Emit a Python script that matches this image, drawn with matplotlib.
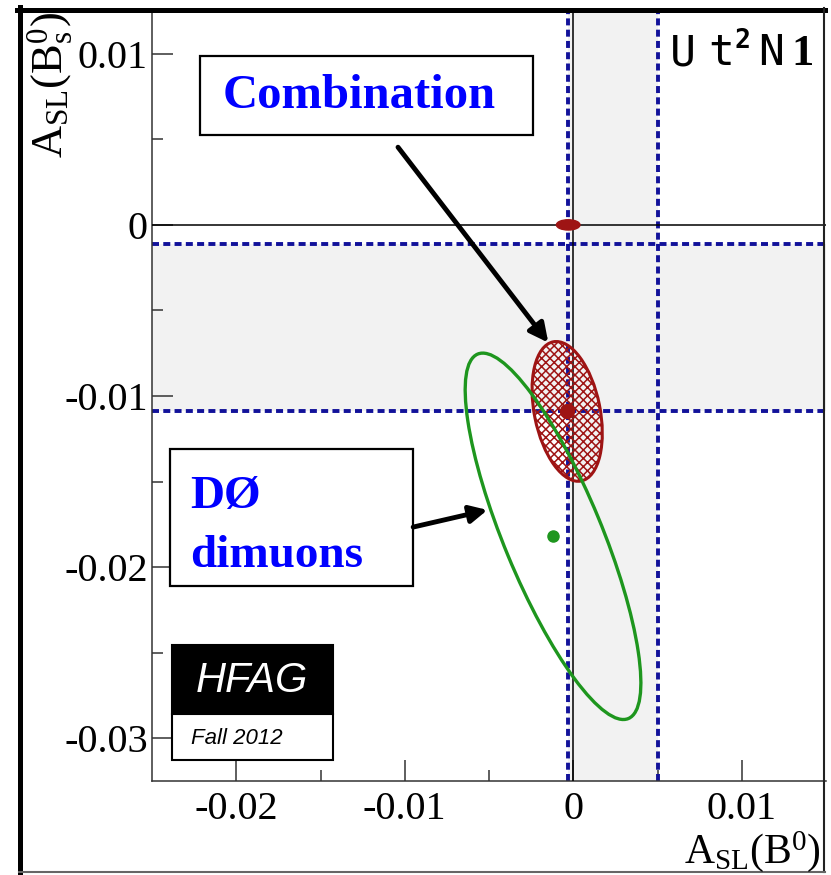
import matplotlib
matplotlib.use("Agg")
import matplotlib.pyplot as plt
from matplotlib.patches import Ellipse, Rectangle
from matplotlib.lines import Line2D

plt.rcParams['font.family'] = ['Liberation Serif', 'DejaVu Serif']
plt.rcParams['mathtext.fontset'] = 'custom'
plt.rcParams['mathtext.rm'] = 'Liberation Serif'
plt.rcParams['mathtext.it'] = 'Liberation Serif:italic'
plt.rcParams['mathtext.bf'] = 'Liberation Serif:bold'
plt.rcParams['hatch.linewidth'] = 1.1

# axis ranges and ticks
x_range = (-0.025, 0.015)
y_range = (-0.0325, 0.0125)
x_ticks = [-0.02, -0.01, 0.0, 0.01]
x_tick_labels = ['-0.02', '-0.01', '0', '0.01']
y_ticks = [-0.03, -0.02, -0.01, 0.0, 0.01]
y_tick_labels = ['-0.03', '-0.02', '-0.01', '0', '0.01']

# 1 sigma bands of the individual measurements
bd_band = (-0.0003, 0.0050)   # A_SL(B0)
bs_band = (-0.0109, -0.0011)  # A_SL(Bs)

# standard model point
sm_point = (-0.0003, 0.0)
sm_size = (0.0014, 0.0006)

# combination ellipse: centre, full widths, rotation
comb_center = (-0.00036, -0.0109)
comb_size = (0.0039, 0.0083)
comb_angle = 11.6

# D0 dimuon ellipse
d0_center = (-0.0012, -0.0182)
d0_size = (0.0058, 0.0231)
d0_angle = 22.8

band_col = '#f2f2f2'
dash_col = '#12129a'
red_col = '#9e1414'
green_col = '#1e961e'
blue_txt = '#0000ff'

fig = plt.figure(figsize=(8.31, 8.75), dpi=100)
ax = fig.add_axes([152 / 831, 94 / 875, 674 / 831, 770 / 875])
ax.set_xlim(*x_range)
ax.set_ylim(*y_range)

# bands
ax.axvspan(bd_band[0], bd_band[1], color=band_col, lw=0, zorder=0)
ax.axhspan(bs_band[0], bs_band[1], color=band_col, lw=0, zorder=0)
dash = (0, (1.8, 1.1))
for v in bd_band:
    ax.axvline(v, color=dash_col, lw=2.8, ls=dash, zorder=2)
for v in bs_band:
    ax.axhline(v, color=dash_col, lw=2.8, ls=dash, zorder=2)

# zero lines
ax.axvline(0, color='black', lw=1.1, zorder=3)
ax.axhline(0, color='black', lw=1.1, zorder=3)

# SM point
ax.add_patch(Ellipse(sm_point, sm_size[0], sm_size[1], color=red_col, zorder=5))

# combination
ax.add_patch(Ellipse(comb_center, comb_size[0], comb_size[1], angle=comb_angle,
                     facecolor='none', edgecolor=red_col, hatch='xxxx', lw=2.2, zorder=4))
ax.plot(*comb_center, 'o', color=red_col, ms=10, zorder=6)

# D0 dimuons
ax.add_patch(Ellipse(d0_center, d0_size[0], d0_size[1], angle=d0_angle,
                     facecolor='none', edgecolor=green_col, lw=2.4, zorder=5))
ax.plot(*d0_center, 'o', color=green_col, ms=8, zorder=6)

# axes styling
for s in ['top', 'right']:
    ax.spines[s].set_visible(False)
for s in ['left', 'bottom']:
    ax.spines[s].set_linewidth(1.1)
    ax.spines[s].set_color('#333333')
ax.set_xticks(x_ticks)
ax.set_xticklabels(x_tick_labels)
ax.set_yticks(y_ticks)
ax.set_yticklabels(y_tick_labels)
ax.set_xticks([-0.015, -0.005, 0.005], minor=True)
ax.set_yticks([-0.025, -0.015, -0.005, 0.005], minor=True)
ax.tick_params(which='both', direction='in', top=False, right=False,
               width=1.1, color='#333333', labelsize=29)
ax.tick_params(which='major', length=15)
ax.tick_params(which='minor', length=8)
ax.tick_params(axis='x', pad=7)
ax.tick_params(axis='y', pad=3)

# axis titles
fig.text(821 / 831, 1 - 863 / 875, r'A$_{\mathrm{SL}}$(B$^{0}$)', fontsize=30,
         ha='right', va='baseline')
fig.text(50 / 831, 1 - 12 / 875, r'A$_{\mathrm{SL}}$(B$_{\mathrm{s}}^{0}$)', fontsize=32,
         rotation=90, ha='center', va='top')

# label boxes
ax.add_patch(Rectangle((-0.02214, 0.00524), 0.01977, 0.00463, facecolor='white',
                       edgecolor='black', lw=1.6, zorder=7))
ax.text(-0.0208, 0.00755, 'Combination', color=blue_txt, fontsize=35,
        fontweight='bold', va='center', zorder=8)
ax.add_patch(Rectangle((-0.02392, -0.02113), 0.01442, 0.00801, facecolor='white',
                       edgecolor='black', lw=1.6, zorder=7))
ax.text(-0.02275, -0.01654, 'DØ', color=blue_txt, fontsize=34,
        fontweight='bold', va='baseline', zorder=8)
ax.text(-0.02275, -0.02, 'dimuons', color=blue_txt, fontsize=34,
        fontweight='bold', va='baseline', zorder=8)

# arrows
ax.annotate('', xy=(-0.00148, -0.00688), xytext=(-0.0104, 0.00454),
            arrowprops=dict(arrowstyle='-|>', color='black', lw=3.5,
                            mutation_scale=28, shrinkA=0, shrinkB=0), zorder=9)
ax.annotate('', xy=(-0.00509, -0.01666), xytext=(-0.0095, -0.01766),
            arrowprops=dict(arrowstyle='-|>', color='black', lw=3.5,
                            mutation_scale=26, shrinkA=0, shrinkB=0), zorder=9)

# HFAG logo (figure pixel boxes)
def fx(x):
    return x / 831


def fy(y):
    return 1 - y / 875


fig.add_artist(Rectangle((fx(172), fy(714)), fx(333) - fx(172), fy(645) - fy(714),
                         transform=fig.transFigure, facecolor='black', edgecolor='black', lw=1.5))
fig.add_artist(Rectangle((fx(172), fy(760)), fx(333) - fx(172), fy(714) - fy(760),
                         transform=fig.transFigure, facecolor='white', edgecolor='black', lw=1.5))
fig.text(fx(252), fy(681), 'HFAG', color='white', fontsize=30, style='italic',
         family='Liberation Sans', ha='center', va='center')
fig.text(fx(191), fy(738), 'Fall 2012', color='black', fontsize=16, style='italic',
         family='Liberation Sans', ha='left', va='center')

# top-right tag
for ch, xp in [('U', 670), ('t', 708), ('N', 758)]:
    fig.text(fx(xp), fy(65), ch, fontsize=31, family='DejaVu Sans Mono', va='baseline')
fig.text(fx(734), fy(48), '2', fontsize=19, family='DejaVu Sans Mono', fontweight='bold', va='baseline')
fig.text(fx(791), fy(65), '1', fontsize=32, family='Liberation Serif', fontweight='bold', va='baseline')

# outer frame
fig.add_artist(Line2D([fx(19.5), fx(19.5)], [fy(7), fy(875)], transform=fig.transFigure,
                      color='black', lw=3.6))
fig.add_artist(Line2D([fx(17), fx(825)], [fy(9.5), fy(9.5)], transform=fig.transFigure,
                      color='black', lw=3.6))
fig.add_artist(Line2D([fx(824), fx(824)], [fy(8), fy(872)], transform=fig.transFigure,
                      color='#222222', lw=1.5))
fig.add_artist(Line2D([fx(19), fx(825)], [fy(872), fy(872)], transform=fig.transFigure,
                      color='#666666', lw=1.5))

fig.savefig('out.png', dpi=100)
